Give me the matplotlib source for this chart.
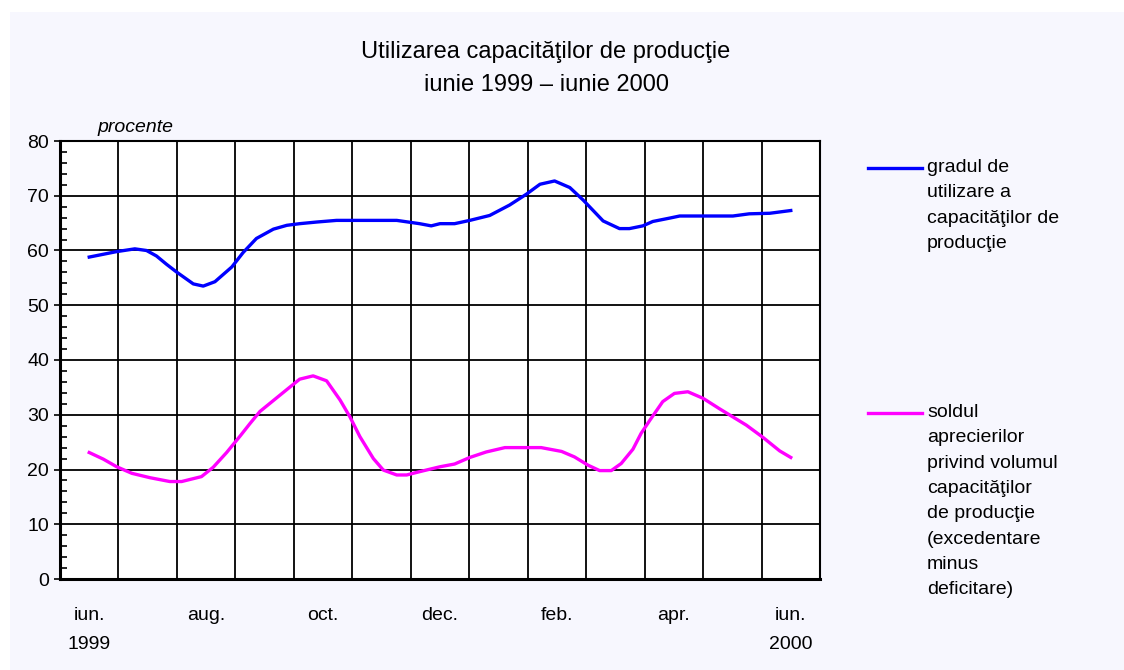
import matplotlib
matplotlib.use("Agg")
import matplotlib.pyplot as plt
from matplotlib.patches import Rectangle

plt.rcParams['font.family'] = ['Liberation Sans', 'DejaVu Sans']

# month index: 0 = iun. 1999 ... 12 = iun. 2000
util_x = [0.00, 0.47, 0.78, 0.98, 1.15, 1.32, 1.49, 1.78, 1.95, 2.15, 2.44, 2.63,
          2.86, 3.15, 3.38, 3.60, 3.89, 4.23, 5.26, 5.65, 5.85, 6.00, 6.25, 6.51,
          6.85, 7.19, 7.48, 7.71, 7.96, 8.22, 8.45, 8.79, 9.07, 9.24, 9.47, 9.64,
          9.92, 10.10, 11.01, 11.29, 11.64, 12.00]
util_y = [58.8, 59.8, 60.3, 60.0, 59.0, 57.5, 56.1, 53.9, 53.5, 54.3, 57.0, 59.6,
          62.2, 63.9, 64.6, 64.9, 65.2, 65.5, 65.5, 64.9, 64.5, 64.9, 64.9, 65.5,
          66.4, 68.3, 70.3, 72.1, 72.7, 71.5, 69.2, 65.4, 64.0, 64.0, 64.5, 65.3,
          65.9, 66.3, 66.3, 66.7, 66.8, 67.3]

sold_x = [0.00, 0.24, 0.47, 0.73, 1.04, 1.38, 1.58, 1.92, 2.12, 2.35, 2.58, 2.75,
          2.92, 3.15, 3.38, 3.60, 3.83, 4.06, 4.29, 4.46, 4.63, 4.86, 5.03, 5.26,
          5.43, 5.65, 6.00, 6.25, 6.51, 6.79, 7.11, 7.73, 8.08, 8.30, 8.53, 8.73,
          8.93, 9.10, 9.30, 9.44, 9.59, 9.81, 10.01, 10.24, 10.50, 10.78, 11.24,
          11.52, 11.81, 12.00]
sold_y = [23.1, 21.9, 20.5, 19.3, 18.5, 17.8, 17.8, 18.7, 20.4, 23.1, 26.1, 28.4,
          30.6, 32.6, 34.6, 36.5, 37.1, 36.2, 32.7, 29.6, 26.0, 22.0, 19.9, 19.0,
          19.0, 19.6, 20.5, 21.0, 22.2, 23.2, 24.0, 24.0, 23.3, 22.3, 20.8, 19.8,
          19.8, 21.1, 23.7, 26.6, 29.0, 32.4, 33.9, 34.2, 33.0, 31.1, 28.1, 25.9,
          23.4, 22.2]

month_pos = [0, 2, 4, 6, 8, 10, 12]
month_lbl = ['iun.\n1999', 'aug.', 'oct.', 'dec.', 'feb.', 'apr.', 'iun.\n2000']

label_util = 'gradul de\nutilizare a\ncapacităţilor de\nproducţie'
label_sold = ('soldul\naprecierilor\nprivind volumul\ncapacităţilor\nde producţie\n'
              '(excedentare\nminus\ndeficitare)')

bg = '#f7f7fe'
fs = 14
fig = plt.figure(figsize=(11.24, 6.70), dpi=100, facecolor='white')
fig.patches.append(Rectangle((10/1124, 0), 1, 1 - 12/670, transform=fig.transFigure,
                             facecolor=bg, edgecolor='none', zorder=-5))

ax = fig.add_axes([60/1124, 91/670, 760/1124, 438/670])
ax.set_zorder(2)
ax.set_facecolor('white')

ax.plot(util_x, util_y, color='#0000ff', lw=2.4, solid_joinstyle='round', zorder=3)
ax.plot(sold_x, sold_y, color='#ff00ff', lw=2.4, solid_joinstyle='round', zorder=3)

ax.set_xlim(-0.5, 12.5)
ax.set_ylim(0, 80)
ax.set_yticks(range(0, 81, 10))
ax.set_yticks(range(0, 81, 2), minor=True)
ax.set_xticks(month_pos)
ax.set_xticklabels(month_lbl, fontsize=fs)
for t in ax.get_xticklabels():
    t.set_linespacing(1.95)
    t.set_verticalalignment('top')
ax.set_xticks([i - 0.5 for i in range(14)], minor=True)

ax.tick_params(axis='x', which='both', length=0, pad=20)
ax.tick_params(axis='y', which='major', direction='out', length=4, width=1.2,
               labelsize=fs, pad=4)
ax.tick_params(axis='y', which='minor', direction='in', length=5, width=1.2)

ax.grid(True, axis='y', which='major', color='black', lw=1.3)
ax.grid(True, axis='x', which='minor', color='black', lw=1.3)
ax.set_axisbelow(True)
for s in ['left', 'bottom']:
    ax.spines[s].set_linewidth(2.2)
for s in ['top', 'right']:
    ax.spines[s].set_linewidth(1.5)

fig.text(546/1124, 1 - 52/670, 'Utilizarea capacităţilor de producţie',
         ha='center', va='center', fontsize=17)
fig.text(546/1124, 1 - 85/670, 'iunie 1999 – iunie 2000',
         ha='center', va='center', fontsize=17)
fig.text(97/1124, 1 - 128/670, 'procente', ha='left', va='center',
         fontsize=fs, style='italic')

# legend drawn by hand at the right side
for y0, col, txt in [(168, '#0000ff', label_util), (413, '#ff00ff', label_sold)]:
    fig.add_artist(plt.Line2D([868/1124, 922/1124], [1 - y0/670, 1 - y0/670],
                              color=col, lw=2.4, transform=fig.transFigure))
    fig.text(927/1124, 1 - (y0 - 9)/670, txt, ha='left', va='top',
             fontsize=fs, linespacing=1.64)

fig.savefig('out.png', dpi=100, facecolor=fig.get_facecolor())
